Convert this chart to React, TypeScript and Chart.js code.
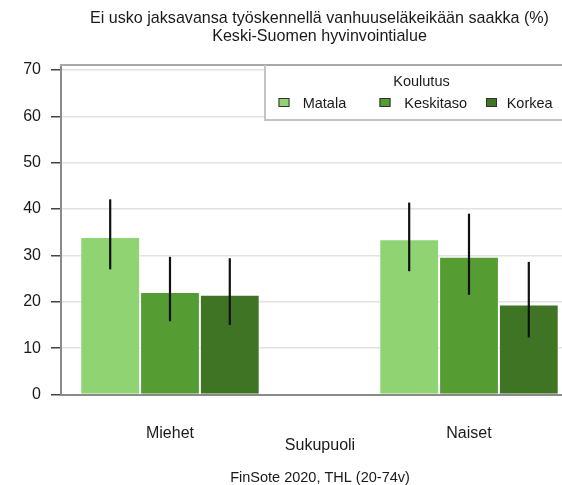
import React, { useEffect, useRef } from 'react';
import { Chart, registerables } from 'chart.js';

Chart.register(...registerables);

const categories = ['Miehet', 'Naiset'];
const seriesNames = ['Matala', 'Keskitaso', 'Korkea'];
const seriesColors = ['#8fd373', '#559c32', '#3f7425'];
const matala = [34.0, 33.5];
const keskitaso = [22.1, 29.7];
const korkea = [21.5, 19.4];
const matalaLow = [27.0, 26.6];
const matalaHigh = [42.1, 41.4];
const keskitasoLow = [15.8, 21.5];
const keskitasoHigh = [29.7, 39.0];
const korkeaLow = [15.0, 12.3];
const korkeaHigh = [29.4, 28.6];
const yTicks = [0, 10, 20, 30, 40, 50, 60, 70];
const titleLines = ['Ei usko jaksavansa työskennellä vanhuuseläkeikään saakka (%)', 'Keski-Suomen hyvinvointialue'];
const xTitle = 'Sukupuoli';
const legendTitle = 'Koulutus';
const caption = 'FinSote 2020, THL (20-74v)';

const FONT = '"Liberation Sans", Arial, sans-serif';
const TEXT = '#1a1a1a';
const W = 580;
const H = 485;

const errorBarPlugin = {
  id: 'errorBars',
  afterDatasetsDraw(chart: any) {
    const ctx = chart.ctx;
    const y = chart.scales.y;
    chart.data.datasets.forEach((ds: any, i: number) => {
      const meta = chart.getDatasetMeta(i);
      meta.data.forEach((bar: any, j: number) => {
        ctx.save();
        ctx.strokeStyle = '#111111';
        ctx.lineWidth = 2.2;
        ctx.beginPath();
        ctx.moveTo(bar.x, y.getPixelForValue(ds.errLow[j]));
        ctx.lineTo(bar.x, y.getPixelForValue(ds.errHigh[j]));
        ctx.stroke();
        ctx.restore();
      });
    });
  },
};

const decorPlugin = {
  id: 'decor',
  afterDraw(chart: any) {
    const ctx = chart.ctx;
    const area = chart.chartArea;
    ctx.save();
    // top frame
    ctx.strokeStyle = '#a8a8a8';
    ctx.lineWidth = 2;
    ctx.beginPath();
    ctx.moveTo(area.left - 1, area.top - 1);
    ctx.lineTo(W, area.top - 1);
    ctx.stroke();

    // legend box
    const bx = 265;
    const by = area.top;
    const bh = 54;
    ctx.fillStyle = '#ffffff';
    ctx.fillRect(bx, by, W - bx, bh);
    ctx.strokeStyle = '#c4c4c4';
    ctx.lineWidth = 2;
    ctx.beginPath();
    ctx.moveTo(bx, by - 1);
    ctx.lineTo(bx, by + bh);
    ctx.lineTo(W, by + bh);
    ctx.stroke();

    ctx.fillStyle = TEXT;
    ctx.font = `14.5px ${FONT}`;
    ctx.textAlign = 'center';
    ctx.textBaseline = 'alphabetic';
    ctx.fillText(legendTitle, 421.5, 86);

    const squareX = [278.5, 379.5, 486];
    const textX = [302.7, 404.3, 506.7];
    ctx.textAlign = 'left';
    seriesNames.forEach((name, i) => {
      ctx.fillStyle = seriesColors[i];
      ctx.fillRect(squareX[i], 98, 11, 9);
      ctx.strokeStyle = '#333333';
      ctx.lineWidth = 1;
      ctx.strokeRect(squareX[i] + 0.5, 98.5, 10, 8);
      ctx.fillStyle = TEXT;
      ctx.fillText(name, textX[i], 107.5);
    });

    // titles
    ctx.font = `16.1px ${FONT}`;
    ctx.textAlign = 'center';
    ctx.fillStyle = TEXT;
    ctx.fillText(titleLines[0], 319.5, 23);
    ctx.fillText(titleLines[1], 319.5, 41);

    // caption
    ctx.font = `14.5px ${FONT}`;
    ctx.fillText(caption, 320, 481.5);
    ctx.restore();
  },
};

export default function App() {
  const ref = useRef<HTMLCanvasElement | null>(null);

  useEffect(() => {
    if (!ref.current) return;
    const values = [matala, keskitaso, korkea];
    const lows = [matalaLow, keskitasoLow, korkeaLow];
    const highs = [matalaHigh, keskitasoHigh, korkeaHigh];
    const chart = new Chart(ref.current, {
      type: 'bar',
      data: {
        datasets: seriesNames.map((name, i) => ({
          label: name,
          data: categories.map((_, j) => ({ x: j, y: values[i][j] })),
          backgroundColor: seriesColors[i],
          borderColor: 'rgba(255,255,255,0.5)',
          borderWidth: 1,
          categoryPercentage: 0.6,
          barPercentage: 1,
          errLow: lows[i],
          errHigh: highs[i],
        })) as any,
      },
      options: {
        animation: false,
        responsive: false,
        maintainAspectRatio: false,
        layout: { padding: { top: 66, right: 1, bottom: 0, left: 0 } },
        plugins: {
          legend: { display: false },
          title: { display: false },
          tooltip: { enabled: false },
        },
        scales: {
          x: {
            type: 'linear',
            min: -0.3645,
            max: 1.3679,
            offset: false,
            afterBuildTicks: (s: any) => {
              s.ticks = categories.map((_, i) => ({ value: i }));
            },
            afterFit: (s: any) => {
              s.height = 90.5;
            },
            ticks: {
              callback: (v: any) => categories[v as number] ?? '',
              font: { family: FONT, size: 16 },
              color: TEXT,
              padding: 21,
              maxRotation: 0,
              autoSkip: false,
            },
            grid: { display: false },
            border: { display: true, color: '#8a8a8a', width: 2 },
            title: {
              display: true,
              text: xTitle,
              font: { family: FONT, size: 16 },
              color: TEXT,
              padding: { top: 0, bottom: 30 },
            },
          },
          y: {
            min: 0,
            max: 70.86,
            afterBuildTicks: (s: any) => {
              s.ticks = yTicks.map((v) => ({ value: v }));
            },
            afterFit: (s: any) => {
              s.width = 61;
            },
            ticks: {
              font: { family: FONT, size: 16 },
              color: TEXT,
              padding: 10,
            },
            grid: {
              color: '#e2e2e2',
              lineWidth: 1.5,
              tickColor: '#444444',
              tickLength: 10,
              drawTicks: true,
            },
            border: { display: true, color: '#8a8a8a', width: 2 },
          },
        },
      } as any,
      plugins: [errorBarPlugin, decorPlugin],
    });
    return () => chart.destroy();
  }, []);

  return (
    <div style={{ position: 'fixed', left: 0, top: 0, width: 562, height: H, overflow: 'hidden', background: '#fff' }}>
      <canvas ref={ref} width={W} height={H} style={{ display: 'block', width: W, height: H }} />
    </div>
  );
}
